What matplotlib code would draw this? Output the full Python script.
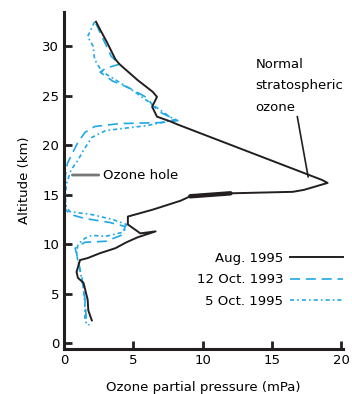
import numpy as np
import matplotlib
matplotlib.use('Agg')
import matplotlib.pyplot as plt

# Aug. 1995 profile (ozone mPa, altitude km)
aug95_x = [2.3, 2.6, 3.1, 3.7, 4.0, 5.3, 6.4, 6.7, 6.35, 6.7, 7.7, 8.2,
           18.6, 19.0, 17.3, 16.5, 12.0, 9.1, 8.4, 6.4, 4.6, 4.6, 5.5,
           6.6, 5.3, 4.5, 3.7, 2.6, 1.7, 1.15, 0.9, 1.0, 1.4, 1.7, 1.75, 2.0]
aug95_y = [32.5, 31.7, 30.4, 28.7, 28.2, 26.6, 25.4, 24.9, 23.9, 22.9, 22.4, 22.1,
           16.5, 16.2, 15.5, 15.3, 15.15, 14.85, 14.4, 13.5, 12.8, 12.0, 11.1,
           11.3, 10.7, 10.2, 9.6, 9.1, 8.6, 8.4, 7.2, 6.6, 6.1, 4.4, 3.3, 2.3]

# 12 Oct. 1993 profile
oct93_x = [2.3, 2.9, 3.4, 4.0, 3.0, 2.6, 3.5, 4.7, 6.0, 6.4, 7.0, 8.2, 7.0,
           4.0, 2.2, 1.5, 1.0, 0.6, 0.25, 0.1, 0.05, 0.1, 0.5, 1.5, 3.3,
           4.4, 4.3, 3.0, 1.5, 0.8, 1.0, 1.3, 1.5, 1.6, 1.8]
oct93_y = [32.3, 30.5, 29.0, 28.2, 27.8, 27.4, 26.5, 25.8, 24.8, 24.0, 23.3, 22.5, 22.3,
           22.2, 21.9, 21.3, 20.3, 19.2, 18.2, 17.0, 15.0, 13.5, 13.0, 12.6, 12.2,
           11.8, 11.0, 10.3, 10.2, 9.6, 8.5, 6.5, 4.5, 2.5, 1.8]

# 5 Oct. 1995 profile
oct95_x = [2.2, 1.7, 2.1, 2.2, 2.7, 3.5, 5.0, 6.5, 7.5, 8.0, 6.0, 3.0, 2.0,
           1.4, 1.0, 0.5, 0.15, 0.1, 0.4, 2.0, 3.5, 4.5, 4.2, 3.0, 2.0, 1.5,
           1.0, 0.9, 1.2, 1.4, 1.5, 1.5, 1.7]
oct95_y = [32.5, 31.0, 30.0, 28.7, 27.5, 26.8, 25.5, 24.0, 23.0, 22.6, 22.0, 21.5, 20.8,
           19.5, 18.5, 17.5, 16.0, 14.0, 13.3, 13.0, 12.5, 12.0, 11.2, 10.8, 10.9, 10.6,
           10.0, 9.0, 7.0, 5.5, 4.0, 2.3, 1.8]

labels = ['Aug. 1995', '12 Oct. 1993', '5 Oct. 1995']
xticks = [0, 5, 10, 15, 20]
yticks = [0, 5, 10, 15, 20, 25, 30]

black = '#231f20'
blue = '#1fa8e6'

fig = plt.figure(figsize=(3.52, 3.94), dpi=100)
ax = fig.add_axes([0.182, 0.114, 0.792, 0.856])

ax.plot(oct93_x, oct93_y, color=blue, lw=1.2, linestyle=(0, (6, 3.5)), label=labels[1])
ax.plot(oct95_x, oct95_y, color=blue, lw=1.2, linestyle=(0, (2.5, 1.8, 1, 1.8)), label=labels[2])
ax.plot(aug95_x, aug95_y, color=black, lw=1.4, label=labels[0])
# the heavier stretch of the Aug. 1995 trace near 15 km
ax.plot(aug95_x[16:18], aug95_y[16:18], color=black, lw=3.2, solid_capstyle='round')

ax.set_xlim(0, 20.1)
ax.set_ylim(-0.6, 33.5)
ax.set_xticks(xticks)
ax.set_xticklabels([str(t) for t in xticks])
ax.set_yticks(yticks)
ax.tick_params(direction='in', length=6, width=2, labelsize=9.5, color=black)
ax.tick_params(axis='x', labelbottom=True)
for s in ['top', 'right']:
    ax.spines[s].set_visible(False)
for s in ['left', 'bottom']:
    ax.spines[s].set_linewidth(2.2)
    ax.spines[s].set_color(black)

ax.set_xlabel('Ozone partial pressure (mPa)', fontsize=9.5, labelpad=10)
ax.set_ylabel('Altitude (km)', fontsize=9.5, labelpad=8)

ax.annotate('Ozone hole', xy=(0.6, 17.0), xytext=(2.8, 17.0), fontsize=9.5,
            va='center', ha='left',
            arrowprops=dict(arrowstyle='-', color='#777777', lw=2, shrinkA=1, shrinkB=0))
ax.annotate('Normal\nstratospheric\nozone', xy=(17.6, 16.8), xytext=(13.8, 23.2),
            fontsize=9.5, va='bottom', ha='left', linespacing=1.85,
            arrowprops=dict(arrowstyle='-', color=black, lw=1.2, shrinkA=0, shrinkB=0,
                            relpos=(0.47, 0.0)))

h, l = ax.get_legend_handles_labels()
order = [2, 0, 1]
ax.legend([h[i] for i in order], [l[i] for i in order], loc='center right',
          bbox_to_anchor=(1.0, 0.205), frameon=False, markerfirst=False,
          handlelength=4, fontsize=9.5, borderaxespad=0, borderpad=0,
          labelspacing=0.65, handletextpad=0.5)

fig.savefig('out.png', dpi=100)
